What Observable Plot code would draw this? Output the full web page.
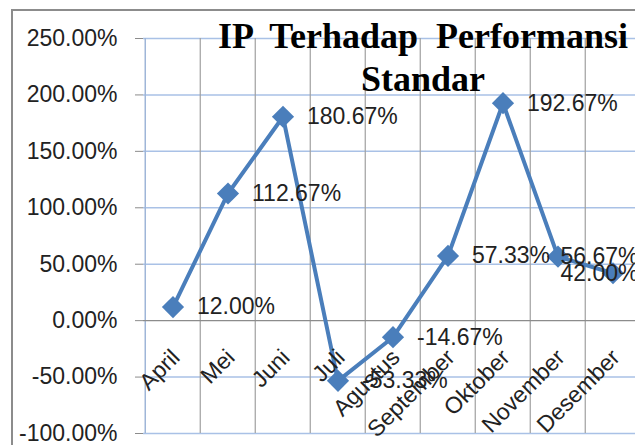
<!DOCTYPE html>
<html><head><meta charset="utf-8">
<script src="https://cdn.jsdelivr.net/npm/d3@7"></script>
<script src="https://cdn.jsdelivr.net/npm/@observablehq/plot@0.6"></script>
<style>
html,body{margin:0;padding:0;background:#fff;overflow:hidden;}
#wrap{position:relative;width:635px;height:445px;overflow:hidden;background:#fff;}
#frame{position:absolute;left:11px;top:9px;width:700px;height:500px;border-left:2px solid #8c8c8c;border-top:2px solid #8c8c8c;}
#chart{position:absolute;left:0;top:0;}
#title{position:absolute;left:423px;top:15px;transform:translateX(-50%);white-space:pre;text-align:center;
  font:bold 36px "Liberation Serif","Times New Roman",serif;line-height:43px;color:#000;}
</style></head>
<body><div id="wrap"><div id="frame"></div><div id="chart"></div><div id="title"></div></div>
<script>
const categories = ["April","Mei","Juni","Juli","Agustus","September","Oktober","November","Desember"];
const values = [12.00, 112.67, 180.67, -53.33, -14.67, 57.33, 192.67, 56.67, 42.00];
const yTicks = [-100, -50, 0, 50, 100, 150, 200, 250];
const titleLines = ["IP  Terhadap  Performansi", "Standar"];

const data = categories.map((c, i) => ({month: c, value: values[i]}));
const pct = v => v.toFixed(2) + "%";
const xRange = [143, 642.5];
const bw = (xRange[1] - xRange[0]) / categories.length;
const pinnedRight = (d, i) => i >= categories.length - 2;

document.getElementById("title").textContent = titleLines.join("\n");

const chart = Plot.plot({
  width: 635, height: 445,
  marginTop: 38, marginBottom: 12, marginLeft: 143, marginRight: 0,
  x: {type: "band", domain: categories, range: xRange, padding: 0, axis: null},
  y: {domain: [-100, 250], range: [433, 38], axis: null},
  style: {background: "transparent", fontFamily: "'Liberation Sans', Arial, sans-serif", fontSize: "23px", overflow: "hidden", color: "#222"},
  marks: [
    Plot.ruleY(yTicks.filter(t => t !== 0), {stroke: "#a9c1e6", strokeWidth: 1.5}),
    Plot.ruleX(categories.slice(1), {x: d => d, dx: -bw / 2, stroke: "#a0a0a0", strokeWidth: 1.2}),
    Plot.ruleX(categories.slice(0, 1), {x: d => d, dx: -bw / 2, stroke: "#9fb6d8", strokeWidth: 1.5}),
    Plot.ruleY([0], {stroke: "#8c8c8c", strokeWidth: 1.2}),
    Plot.axisY({ticks: yTicks, tickFormat: pct, tickSize: 8, tickPadding: 18, label: null, stroke: "#8c8c8c", fill: "#222", fontSize: 23}),
    Plot.line(data, {x: "month", y: "value", stroke: "#4a7ebb", strokeWidth: 4}),
    Plot.dot(data, {x: "month", y: "value", symbol: "diamond2", r: 10, fill: "#4a7ebb"}),
    Plot.text(categories, {x: d => d, y: () => 0, text: d => d, rotate: -45, textAnchor: "end", dx: 3, dy: 33, fill: "#222", fontSize: 23}),
    Plot.text(data, {filter: (d, i) => !pinnedRight(d, i), x: "month", y: "value", text: d => pct(d.value), textAnchor: "start", dx: 24, fill: "#222", fontSize: 23}),
    Plot.text(data, {filter: pinnedRight, y: "value", frameAnchor: "right", text: d => pct(d.value), textAnchor: "end", dx: 3, fill: "#222", fontSize: 23})
  ]
});
document.getElementById("chart").appendChild(chart);
</script>
</body></html>
